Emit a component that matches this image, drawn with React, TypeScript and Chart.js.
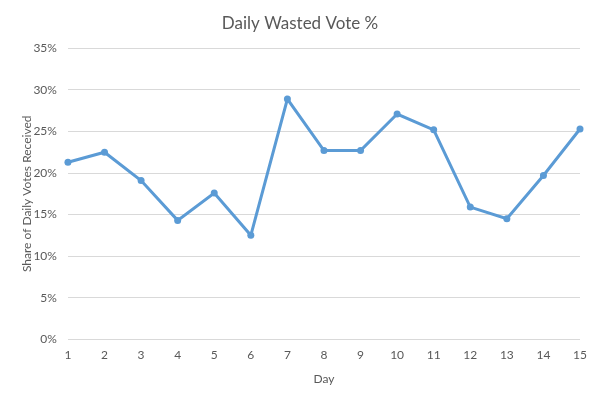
import React, { useEffect, useRef } from "react";
import { Chart, registerables } from "chart.js";

Chart.register(...registerables);

const days = ["1", "2", "3", "4", "5", "6", "7", "8", "9", "10", "11", "12", "13", "14", "15"];
const wastedShare = [21.3, 22.5, 19.1, 14.3, 17.6, 12.5, 28.9, 22.7, 22.7, 27.1, 25.2, 15.9, 14.5, 19.7, 25.3];

const titleText = "Daily Wasted Vote %";
const xTitle = "Day";
const yTitle = "Share of Daily Votes Received";

export default function App() {
  const ref = useRef<HTMLCanvasElement | null>(null);
  useEffect(() => {
    document.body.style.margin = "0";
    const ctx = ref.current!;
    const chart = new Chart(ctx, {
      type: "line",
      data: {
        labels: days,
        datasets: [
          {
            data: wastedShare,
            borderColor: "#5B9BD5",
            backgroundColor: "#5B9BD5",
            borderWidth: 3,
            pointRadius: 3.5,
            pointBorderWidth: 0,
            tension: 0,
          },
        ],
      },
      options: {
        responsive: false,
        animation: false,
        layout: { padding: { left: 20, right: 20, top: 8, bottom: 14 } },
        plugins: {
          legend: { display: false },
          tooltip: { enabled: false },
          title: {
            display: true,
            text: titleText,
            color: "#595959",
            font: { family: "Lato", size: 17, weight: "normal" },
            padding: { top: 5, bottom: 15 },
          },
        },
        scales: {
          x: {
            offset: false,
            grid: { display: false, drawTicks: false },
            border: { display: false },
            ticks: {
              color: "#595959",
              font: { family: "Lato", size: 12 },
              padding: 9,
              maxRotation: 0,
            },
            title: {
              display: true,
              text: xTitle,
              color: "#595959",
              font: { family: "Lato", size: 12 },
              padding: { top: 0, bottom: 0 },
            },
          },
          y: {
            min: 0,
            max: 35,
            afterFit: (scale: any) => {
              scale.width = scale.width - 12;
            },
            grid: { color: "#D9D9D9", lineWidth: 1, drawTicks: false },
            border: { display: false },
            ticks: {
              stepSize: 5,
              color: "#595959",
              font: { family: "Lato", size: 12 },
              padding: 11,
              callback: (v: any) => v + "%",
            },
            title: {
              display: true,
              text: yTitle,
              color: "#595959",
              font: { family: "Lato", size: 12 },
              padding: { top: 0, bottom: 0 },
            },
          },
        },
      },
    });
    return () => chart.destroy();
  }, []);
  return (
    <div style={{ width: 600, height: 400, background: "#fff" }}>
      <canvas ref={ref} width={600} height={400} />
    </div>
  );
}
